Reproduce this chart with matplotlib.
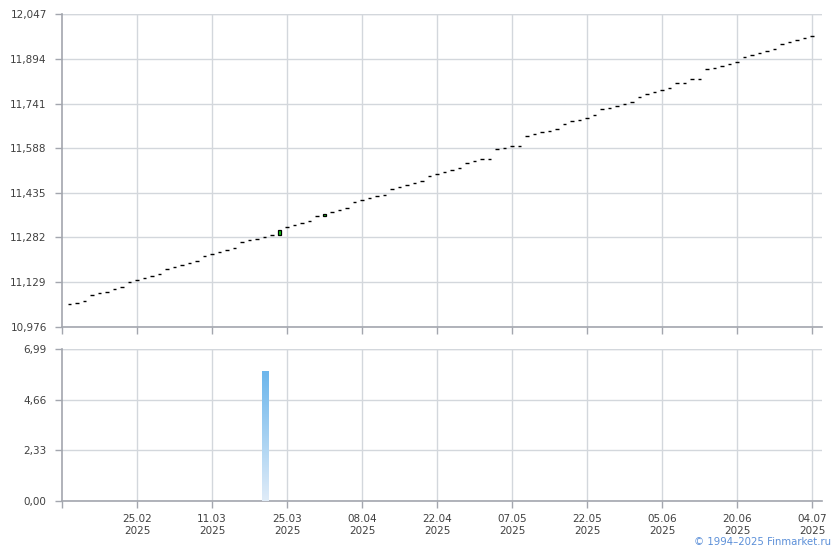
import matplotlib
matplotlib.use("Agg")
import matplotlib.pyplot as plt
import numpy as np

# ====== DATA ======

# daily closing values (one per trading day, 12.02.2025 .. 04.07.2025)
close_vals = [
    11.0528, 11.0583, 11.0651, 11.0836, 11.0905, 11.0960, 11.1042, 11.1111, 11.1282, 11.1361,
    11.1419, 11.1488, 11.1556, 11.1738, 11.1807, 11.1865, 11.1934, 11.2002, 11.2184, 11.2242,
    11.2311, 11.2379, 11.2448, 11.2654, 11.2722, 11.2767, 11.2825, 11.2894, 11.3075, 11.3168,
    11.3247, 11.3315, 11.3384, 11.3545, 11.3613, 11.3682, 11.3751, 11.3819, 11.4025, 11.4093,
    11.4162, 11.4241, 11.4275, 11.4470, 11.4549, 11.4608, 11.4676, 11.4745, 11.4937, 11.4995,
    11.5053, 11.5122, 11.5190, 11.5362, 11.5430, 11.5509, 11.5509, 11.5852, 11.5876, 11.5945,
    11.5945, 11.6287, 11.6356, 11.6425, 11.6469, 11.6538, 11.6719, 11.6812, 11.6846, 11.6925,
    11.7007, 11.7213, 11.7258, 11.7316, 11.7395, 11.7453, 11.7645, 11.7727, 11.7796, 11.7865,
    11.7933, 11.8125, 11.8125, 11.8242, 11.8242, 11.8584, 11.8619, 11.8687, 11.8756, 11.8824,
    11.9006, 11.9064, 11.9133, 11.9202, 11.9270, 11.9441, 11.9510, 11.9579, 11.9647, 11.9716,
]

# days where open differs from close (green candles)
candle_idx = [28, 34]
candle_open = [11.2914, 11.3555]

# volume
vol_idx = [26]
vol_vals = [5.99]

x_labels = ["25.02\n2025", "11.03\n2025", "25.03\n2025", "08.04\n2025", "22.04\n2025",
            "07.05\n2025", "22.05\n2025", "05.06\n2025", "20.06\n2025", "04.07\n2025"]
price_ticks = [10.976, 11.129, 11.282, 11.435, 11.588, 11.741, 11.894, 12.047]
vol_ticks = [0.0, 2.33, 4.66, 6.99]

# ====== CHART ======

grid_c = "#d3d7dc"
spine_c = "#a3a6ae"
text_c = "#404040"

fig = plt.figure(figsize=(8.4, 5.5), dpi=100)
ax1 = fig.add_axes([62 / 840, 1 - 326.7 / 550, 760 / 840, 312.4 / 550])
ax2 = fig.add_axes([62 / 840, 1 - 501 / 550, 760 / 840, 151.7 / 550])

xs = np.arange(len(close_vals))
xtick_pos = [9 + 10 * i for i in range(len(x_labels))]

opens = list(close_vals)
for i, o in zip(candle_idx, candle_open):
    opens[i] = o

# flat dashes
flat = [i for i in xs if i not in candle_idx]
ax1.hlines([close_vals[i] for i in flat], [i - 0.26 for i in flat], [i + 0.26 for i in flat],
           color="black", lw=1.0, zorder=3)
# candles with bodies
for i in candle_idx:
    ax1.bar(i, close_vals[i] - opens[i], bottom=opens[i], width=0.5,
            color="#14cc14", edgecolor="black", lw=0.9, zorder=3)

# volume bar with vertical gradient
grad = np.linspace(0, 1, 256).reshape(-1, 1)
cmap = matplotlib.colors.LinearSegmentedColormap.from_list("vol", ["#e0ecf8", "#6cb6ec"])
for i, v in zip(vol_idx, vol_vals):
    bars = ax2.bar(i, v, width=0.8, color="none", lw=0, zorder=3)
    im = ax2.imshow(grad, extent=(i - 0.4, i + 0.4, 0, v), origin="lower", cmap=cmap,
                    aspect="auto", zorder=3)
    im.set_clip_path(bars[0])

for ax, ticks, lim, fmt in [(ax1, price_ticks, (10.976, 12.047), "{:.3f}"),
                            (ax2, vol_ticks, (0, 6.99), "{:.2f}")]:
    ax.set_xlim(-1, 100.33)
    ax.set_ylim(*lim)
    ax.set_yticks(ticks)
    ax.set_yticklabels([fmt.format(t).replace(".", ",") for t in ticks])
    ax.set_xticks(xtick_pos)
    ax.set_xticks([-1], minor=True)
    ax.grid(True, color=grid_c, lw=1.0, zorder=0)
    ax.set_axisbelow(True)
    for s in ["top", "right"]:
        ax.spines[s].set_visible(False)
    for s in ["left", "bottom"]:
        ax.spines[s].set_color(spine_c)
        ax.spines[s].set_linewidth(1.2)
    ax.tick_params(which="both", direction="out", length=5, width=1, color=spine_c,
                   labelsize=7.5, labelcolor=text_c, pad=4)
    ax.tick_params(axis="y", pad=6)
    # top gridline at upper limit
    ax.axhline(lim[1], color=grid_c, lw=1.0, zorder=0)

ax1.set_xticklabels([])
ax2.set_xticklabels(x_labels, linespacing=1.3)

fig.text(0.989, 0.0145, "© 1994–2025 Finmarket.ru", ha="right", va="center",
         fontsize=7.3, color="#5b8fd8")

fig.savefig("out.png", dpi=100)
